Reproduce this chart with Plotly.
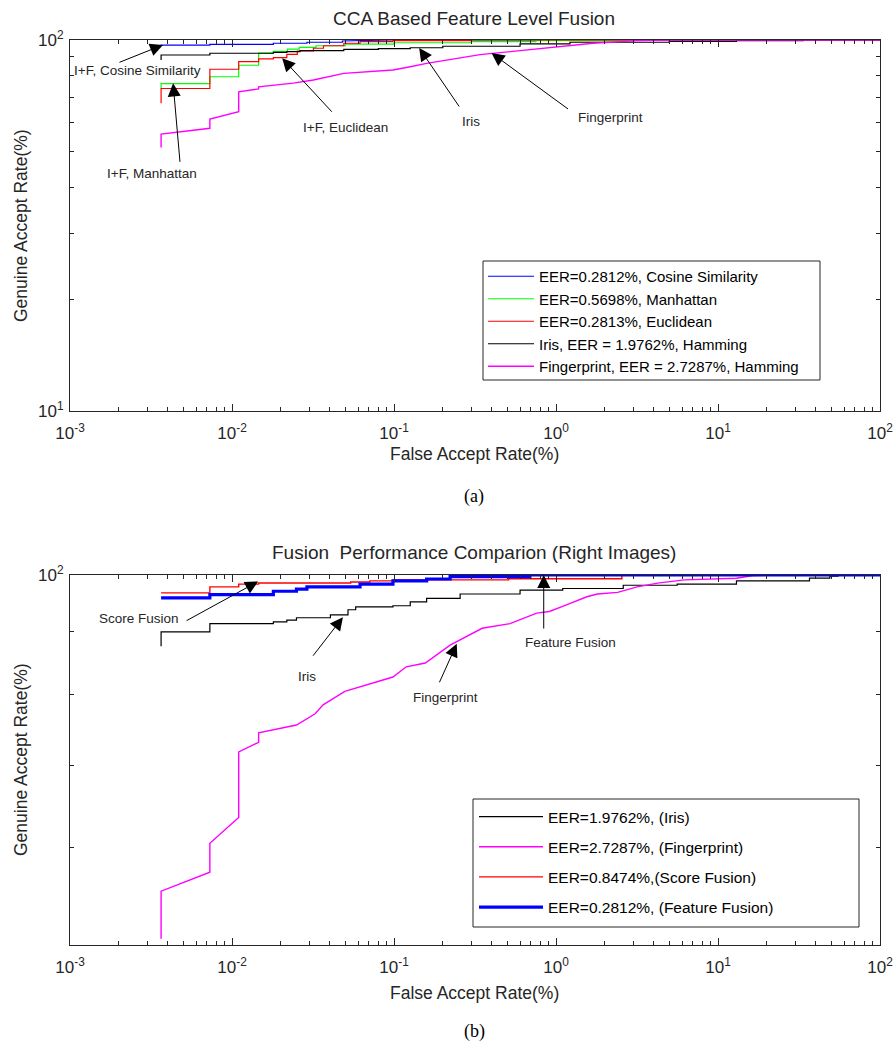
import numpy as np
import plotly.graph_objects as go

# ---------------- DATA (FAR %, GAR %) ----------------
# (a) CCA Based Feature Level Fusion
cos_far = [0.00365, 0.00365, 0.0073, 0.0073, 0.018, 0.018, 0.029, 0.029, 0.048, 0.048, 0.099, 100]
cos_gar = [96.5, 96.9, 96.9, 97.3, 97.3, 98.0, 98.0, 98.6, 98.6, 99.4, 100, 100]

man_far = [0.00365, 0.00365, 0.0073, 0.0073, 0.011, 0.011, 0.0146, 0.0146, 0.018, 0.018, 0.022, 0.022,
           0.026, 0.026, 0.033, 0.033, 0.05, 0.05, 0.1, 0.1, 0.3, 0.3, 0.75, 0.75, 3, 3, 100]
man_gar = [74.0, 76.3, 76.3, 79.6, 79.6, 85.5, 85.5, 92.2, 92.2, 93.2, 93.2, 94.5,
           94.5, 95.5, 95.5, 96.5, 96.5, 97.5, 97.5, 98.3, 98.3, 99.0, 99.0, 99.6, 99.6, 100, 100]

euc_far = [0.00365, 0.00365, 0.0073, 0.0073, 0.011, 0.011, 0.0146, 0.0146, 0.018, 0.018, 0.0218, 0.0218,
           0.0253, 0.0253, 0.0318, 0.0318, 0.0367, 0.0367, 0.049, 0.049, 0.0617, 0.0617, 0.0985, 0.0985,
           0.3, 0.3, 100]
euc_gar = [67.5, 74.0, 74.0, 83.4, 83.4, 87.4, 87.4, 89.0, 89.0, 89.6, 89.6, 91.5,
           91.5, 93.4, 93.4, 95.0, 95.0, 96.5, 96.5, 98.0, 98.0, 99.0, 99.0, 99.6,
           99.6, 100, 100]

iris_a_far = [0.00365, 0.00365, 0.0073, 0.0073, 0.018, 0.018, 0.0218, 0.0218, 0.0263, 0.0263, 0.049, 0.049,
              0.08, 0.08, 0.126, 0.126, 0.2, 0.2, 0.6, 0.6, 1.22, 1.22, 5, 5, 13, 13, 33.6, 33.6, 100]
iris_a_gar = [88.3, 91.1, 91.1, 92.1, 92.1, 92.6, 92.6, 93.0, 93.0, 93.6, 93.6, 94.4,
              94.4, 94.8, 94.8, 95.3, 95.3, 96.2, 96.2, 97.6, 97.6, 98.6, 98.6, 99.2, 99.2, 99.6, 99.6, 100, 100]

fp_a_far = [0.00365, 0.00365, 0.0073, 0.0073, 0.011, 0.011, 0.0146, 0.0146, 0.0239, 0.0318, 0.049, 0.0985,
            0.126, 0.159, 0.34, 0.41, 0.76, 1.69, 3.17, 5.6, 100]
fp_a_gar = [51.3, 55.8, 57.8, 61.2, 64.1, 72.5, 73.8, 74.8, 76.5, 78.0, 81.3, 83.0,
            84.7, 86.5, 91.3, 92.1, 94.4, 98.0, 99.6, 100, 100]

# (b) Fusion Performance Comparison
iris_b_far = [0.00365, 0.00365, 0.0073, 0.0073, 0.018, 0.018, 0.0218, 0.0218, 0.025, 0.025, 0.0405, 0.0405,
              0.052, 0.052, 0.058, 0.058, 0.0985, 0.0985, 0.126, 0.126, 0.159, 0.159, 0.256, 0.256,
              0.6, 0.6, 1.1, 1.1, 2.6, 2.6, 5.6, 5.6, 13, 13, 36.7, 36.7, 49, 49, 55, 55, 100]
iris_b_gar = [87.5, 89.9, 89.9, 91.3, 91.3, 91.6, 91.6, 91.9, 91.9, 92.3, 92.3, 92.8,
              92.8, 93.7, 93.7, 94.2, 94.2, 94.4, 94.4, 95.1, 95.1, 95.7, 95.7, 96.5,
              96.5, 97.2, 97.2, 97.5, 97.5, 98.1, 98.1, 98.3, 98.3, 98.9, 98.9, 99.4, 99.4, 99.8, 99.8, 100, 100]

fp_b_far = [0.00365, 0.00365, 0.0073, 0.0073, 0.011, 0.011, 0.0146, 0.0146, 0.025, 0.0326, 0.0365, 0.0497,
            0.0985, 0.119, 0.156, 0.222, 0.35, 0.52, 0.76, 0.91, 1.15, 1.55, 1.8, 2.4, 3.17, 4.24,
            6.2, 13, 16.5, 27, 100]
fp_b_gar = [50.6, 55.3, 57.3, 60.5, 63.5, 71.8, 73.1, 74.4, 75.5, 77.1, 78.4, 80.4,
            82.6, 84.2, 84.8, 87.7, 90.5, 91.3, 93.1, 93.4, 94.5, 96.0, 96.5, 96.8, 97.8, 98.5,
            99.1, 99.4, 99.9, 100, 100]

score_far = [0.00365, 0.0073, 0.0073, 0.011, 0.011, 0.0146, 0.0146, 0.054, 0.054, 0.071, 0.071, 0.0985,
             0.0985, 0.51, 0.51, 2.55, 2.55, 100]
score_gar = [96.7, 96.7, 97.8, 97.8, 98.3, 98.3, 98.5, 98.5, 98.7, 98.7, 98.9, 98.9,
             99.1, 99.1, 99.3, 99.3, 100, 100]

feat_far = [0.00365, 0.0073, 0.0073, 0.018, 0.018, 0.025, 0.025, 0.029, 0.029, 0.0617, 0.0617, 0.0985,
            0.0985, 0.159, 0.159, 0.222, 0.222, 0.69, 0.69, 100]
feat_gar = [95.8, 95.8, 96.4, 96.4, 97.0, 97.0, 97.4, 97.4, 97.8, 97.8, 98.3, 98.3,
            98.9, 98.9, 99.25, 99.25, 99.7, 99.7, 100, 100]

legend_a = ["EER=0.2812%, Cosine Similarity", "EER=0.5698%, Manhattan", "EER=0.2813%, Euclidean",
            "Iris, EER = 1.9762%, Hamming", "Fingerprint, EER = 2.7287%, Hamming"]
legend_b = ["EER=1.9762%, (Iris)", "EER=2.7287%, (Fingerprint)", "EER=0.8474%,(Score Fusion)",
            "EER=0.2812%, (Feature Fusion)"]

x_exps = [-3, -2, -1, 0, 1, 2]
ya_exps = [1, 2]
yb_exps = [2]

# arrow heads (FAR %, GAR %) and tail pixel offsets
arrows_a = [(0.00375, 97.0, -45, 18), (0.00433, 76.4, 7, 80), (0.0204, 89.3, 51, 55),
            (0.143, 95.2, 41, 60), (0.40, 92.2, 78, 57)]
labels_a = [("I+F, Cosine Similarity", 137, 71), ("I+F, Manhattan", 152, 173),
            ("I+F, Euclidean", 345, 127), ("Iris", 471, 121), ("Fingerprint", 610, 117)]
arrows_b = [(0.0145, 98.8, -73, 40), (0.0484, 92.4, -31, 40), (0.244, 87.9, -18, 40),
            (0.84, 99.99, 0, 55)]
labels_b = [("Score Fusion", 139, 618), ("Iris", 307, 676), ("Fingerprint", 445, 697),
            ("Feature Fusion", 570, 642)]

W, H = 893, 1048
FONT = "Liberation Sans, Arial, sans-serif"
AX = "#262626"

fig = go.Figure()

def tr(x, y, name, color, width, xa, ya, leg):
    fig.add_trace(go.Scatter(x=x, y=y, mode="lines", name=name, xaxis=xa, yaxis=ya,
                             line=dict(color=color, width=width), legend=leg,
                             legendgroup=name))

tr(cos_far, cos_gar, legend_a[0], "#0000FF", 1.2, "x", "y", "legend")
tr(man_far, man_gar, legend_a[1], "#00FF00", 1.2, "x", "y", "legend")
tr(euc_far, euc_gar, legend_a[2], "#FF0000", 1.2, "x", "y", "legend")
tr(iris_a_far, iris_a_gar, legend_a[3], "#000000", 1.2, "x", "y", "legend")
tr(fp_a_far, fp_a_gar, legend_a[4], "#FF00FF", 1.4, "x", "y", "legend")

tr(iris_b_far, iris_b_gar, legend_b[0], "#000000", 1.2, "x2", "y2", "legend2")
tr(fp_b_far, fp_b_gar, legend_b[1], "#FF00FF", 1.4, "x2", "y2", "legend2")
tr(score_far, score_gar, legend_b[2], "#FF0000", 1.4, "x2", "y2", "legend2")
tr(feat_far, feat_gar, legend_b[3], "#0000FF", 3.2, "x2", "y2", "legend2")

def axis(rng, domain, anchor, exps, standoff):
    return dict(type="log", range=rng, domain=domain, anchor=anchor, tickmode="array",
                tickvals=[10.0 ** e for e in exps],
                ticktext=["10<sup>%d</sup>" % e for e in exps],
                showline=True, linecolor=AX, automargin=False, ticklabelstandoff=standoff,
                ticklabeloverflow="allow",
                linewidth=1, mirror="ticks", ticks="inside", ticklen=7, tickcolor=AX,
                showgrid=False, zeroline=False,
                minor=dict(ticks="inside", ticklen=4, tickcolor=AX, showgrid=False,
                           tickmode="array",
                           tickvals=[k * 10.0 ** e for e in range(-3, 2) for k in range(2, 10)]),
                tickfont=dict(family=FONT, size=17, color=AX))

xd = [70 / W, 880 / W]
ya_dom = [1 - 411 / H, 1 - 40 / H]
yb_dom = [1 - 945 / H, 1 - 575 / H]

annotations = []
for (fx, gy, ax, ay) in arrows_a:
    annotations.append(dict(x=np.log10(fx), y=np.log10(gy), xref="x", yref="y", text="",
                            showarrow=True, arrowhead=2, arrowsize=2.6, arrowwidth=1,
                            arrowcolor="black", ax=ax, ay=ay, standoff=0))
for (fx, gy, ax, ay) in arrows_b:
    annotations.append(dict(x=np.log10(fx), y=np.log10(gy), xref="x2", yref="y2", text="",
                            showarrow=True, arrowhead=2, arrowsize=2.6, arrowwidth=1,
                            arrowcolor="black", ax=ax, ay=ay, standoff=0))
for (t, px, py) in labels_a + labels_b:
    annotations.append(dict(x=px / W, y=1 - py / H, xref="paper", yref="paper", text=t,
                            showarrow=False, xanchor="center", yanchor="middle",
                            font=dict(family=FONT, size=13.5, color=AX)))

def ptext(t, px, py, size, family=FONT, angle=0, color=AX):
    annotations.append(dict(x=px / W, y=1 - py / H, xref="paper", yref="paper", text=t,
                            showarrow=False, xanchor="center", yanchor="middle", textangle=angle,
                            font=dict(family=family, size=size, color=color)))

ptext("CCA Based Feature Level Fusion", 474, 18, 19)
ptext("Fusion  Performance Comparion (Right Images)", 474, 552, 19)
ptext("False Accept Rate(%)", 474, 454, 17.5)
ptext("False Accept Rate(%)", 474, 993, 17.5)
ptext("Genuine Accept Rate(%)", 21, 226, 17.5, angle=-90)
ptext("Genuine Accept Rate(%)", 21, 760, 17.5, angle=-90)
ptext("(a)", 474, 496, 18, family="Liberation Serif, Times New Roman, serif", color="black")
ptext("(b)", 474, 1031, 18, family="Liberation Serif, Times New Roman, serif", color="black")

# legend frames (the reference boxes are wider than their entries)
legend_a_box = dict(type="rect", xref="paper", yref="paper", x0=483 / W, x1=820 / W,
                    y0=1 - 380 / H, y1=1 - 261 / H, line=dict(color=AX, width=1),
                    fillcolor="white", layer="above")
legend_b_box = dict(type="rect", xref="paper", yref="paper", x0=473 / W, x1=859 / W,
                    y0=1 - 927 / H, y1=1 - 799 / H, line=dict(color=AX, width=1),
                    fillcolor="white", layer="above")

fig.update_layout(
    width=W, height=H, margin=dict(l=0, r=0, t=0, b=0, autoexpand=False),
    paper_bgcolor="white", plot_bgcolor="white",
    xaxis=axis([-3, 2], xd, "y", x_exps, 7),
    yaxis=axis([1, 2], ya_dom, "x", ya_exps, 2),
    xaxis2=axis([-3, 2], xd, "y2", x_exps, 7),
    yaxis2=axis([np.log10(50), 2], yb_dom, "x2", yb_exps, 2),
    legend=dict(x=483 / W, y=1 - 260 / H, xanchor="left", yanchor="top",
                bgcolor="rgba(0,0,0,0)", borderwidth=0,
                font=dict(family=FONT, size=15, color="black"),
                itemwidth=46, tracegroupgap=0),
    legend2=dict(x=474 / W, y=1 - 800 / H, xanchor="left", yanchor="top",
                 bgcolor="rgba(0,0,0,0)", borderwidth=0,
                 font=dict(family=FONT, size=15.5, color="black"),
                 itemwidth=64, tracegroupgap=7),
    shapes=[legend_a_box, legend_b_box],
    annotations=annotations,
    showlegend=True,
)

fig.write_html("out.html", config={"displayModeBar": False},
               post_script="document.body.style.margin='0px';document.body.style.overflow='hidden';")
